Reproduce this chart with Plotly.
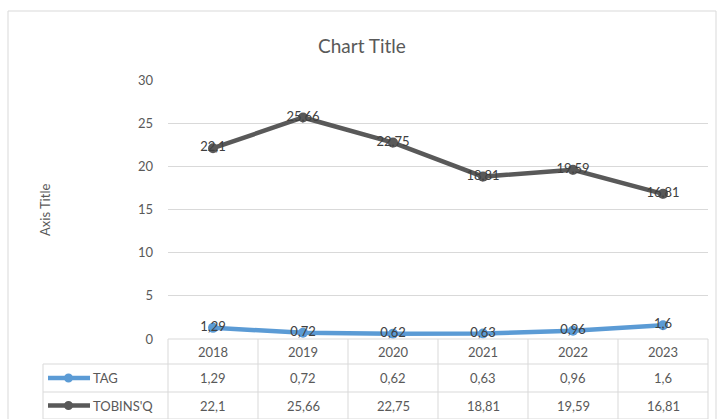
import plotly.graph_objects as go

years = ["2018", "2019", "2020", "2021", "2022", "2023"]
tag = [1.29, 0.72, 0.62, 0.63, 0.96, 1.6]
tobins = [22.1, 25.66, 22.75, 18.81, 19.59, 16.81]
series_names = ["TAG", "TOBINS'Q"]
y_ticks = [0, 5, 10, 15, 20, 25, 30]

def fmt(v):
    s = ("%.2f" % v).rstrip("0").rstrip(".")
    return s.replace(".", ",")

W, H = 717, 419
L, R, T, B = 168, 708, 80, 339
pw, ph = R - L, B - T

def px(x):
    return (x - L) / pw

def py(y):
    return (B - y) / ph

FONT = "Lato"
TXT = "#595959"
GRID = "#D9D9D9"
colors = ["#5B9BD5", "#595959"]

fig = go.Figure()
for name, vals, col in zip(series_names, [tag, tobins], colors):
    fig.add_trace(go.Scatter(
        x=list(range(len(years))), y=vals, name=name,
        mode="lines+markers+text",
        line=dict(color=col, width=4.5),
        marker=dict(color=col, size=10),
        text=[fmt(v) for v in vals], textposition="middle center",
        textfont=dict(family=FONT, size=13, color="#404040"),
        cliponaxis=False, showlegend=False))

shapes = []
ann = []

def add_text(x, y, text, size=13, xanchor="center", angle=0, color=TXT):
    ann.append(dict(xref="paper", yref="paper", x=px(x), y=py(y), text=text,
                    xanchor=xanchor, yanchor="middle", textangle=angle,
                    showarrow=False, font=dict(family=FONT, size=size, color=color)))

# chart border
shapes.append(dict(type="rect", xref="paper", yref="paper",
                   x0=px(8), x1=px(716), y0=py(430), y1=py(11),
                   line=dict(color="#D9D9D9", width=1), layer="below"))
# table lines
row_y = [339, 364, 392, 419]
ncat = len(years)
cw = pw / ncat
line_style = dict(color="#D9D9D9", width=1)
shapes.append(dict(type="line", xref="paper", yref="paper", x0=px(L), x1=px(R),
                   y0=py(339), y1=py(339), line=line_style))
for yy in row_y[1:]:
    shapes.append(dict(type="line", xref="paper", yref="paper", x0=px(43), x1=px(R),
                       y0=py(yy), y1=py(yy), line=line_style))
for k in range(ncat + 1):
    xx = L + k * cw
    shapes.append(dict(type="line", xref="paper", yref="paper", x0=px(xx), x1=px(xx),
                       y0=py(339), y1=py(425), line=line_style))
shapes.append(dict(type="line", xref="paper", yref="paper", x0=px(43), x1=px(43),
                   y0=py(364), y1=py(425), line=line_style))

for k, yr in enumerate(years):
    add_text(L + (k + 0.5) * cw, 351.5, yr)
for r, (name, vals, col) in enumerate(zip(series_names, [tag, tobins], colors)):
    yc = (row_y[r + 1] + row_y[r + 2]) / 2
    shapes.append(dict(type="line", xref="paper", yref="paper", x0=px(48), x1=px(90),
                       y0=py(yc), y1=py(yc), line=dict(color=col, width=4.5)))
    shapes.append(dict(type="circle", xref="paper", yref="paper",
                       x0=px(64), x1=px(73), y0=py(yc + 4.5), y1=py(yc - 4.5),
                       fillcolor=col, line=dict(color=col, width=0)))
    add_text(91, yc, name, xanchor="left")
    for k, v in enumerate(vals):
        add_text(L + (k + 0.5) * cw, yc, fmt(v))

add_text(362, 45, "Chart Title", size=19)
add_text(45, 210, "Axis Title", angle=-90)

fig.update_layout(
    width=W, height=H, margin=dict(l=L, r=W - R, t=T, b=H - B),
    paper_bgcolor="white", plot_bgcolor="white",
    xaxis=dict(range=[-0.5, ncat - 0.5], showticklabels=False, showgrid=False,
               zeroline=False, showline=False, fixedrange=True),
    yaxis=dict(range=[0, 30], tickvals=y_ticks, showgrid=True, gridcolor=GRID, gridwidth=1,
               zeroline=False, showline=False, ticklabelstandoff=14,
               tickfont=dict(family=FONT, size=13, color=TXT)),
    shapes=shapes, annotations=ann, showlegend=False)

fig.write_html("out.html")
